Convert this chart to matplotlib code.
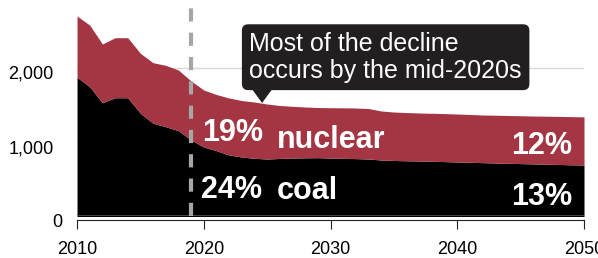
import matplotlib
matplotlib.use('Agg')
import matplotlib.pyplot as plt
from matplotlib.patches import Polygon
from matplotlib.transforms import ScaledTranslation

plt.rcParams['font.family'] = ['Liberation Sans', 'DejaVu Sans']
plt.rcParams['lines.scale_dashes'] = False

# Data, electricity generation by year
years = list(range(2010, 2051))
coal = [1879, 1752, 1536, 1603, 1603, 1393, 1258, 1212, 1158, 1032,
        938, 888, 830, 803, 785, 776, 783, 789, 792, 794,
        789, 785, 781, 776, 762, 756, 752, 749, 745, 741,
        736, 731, 727, 722, 718, 714, 710, 706, 702, 698, 695]
nuclear = [827, 832, 792, 810, 810, 809, 818, 828, 819, 797,
           769, 758, 769, 762, 760, 742, 715, 698, 686, 677,
           679, 682, 683, 681, 662, 654, 651, 648, 648, 648,
           647, 646, 643, 645, 645, 646, 646, 648, 649, 650, 650]
total = [c + n for c, n in zip(coal, nuclear)]

cutoff_year = 2019
xticks = [2010, 2020, 2030, 2040, 2050]
yticks = [0, 1000, 2000]
ytick_labels = ['0', '1,000', '2,000']
note = 'Most of the decline\noccurs by the mid-2020s'

RED = '#a43543'
BOX = '#231f20'

fig = plt.figure(figsize=(5.98, 2.58), dpi=100)
ax = fig.add_axes([0.1288, 0.1609, 0.8478, 0.8155])

ax.fill_between(years, 0, coal, color='black', lw=0, zorder=2)
ax.fill_between(years, coal, total, color=RED, lw=0, zorder=2)
ax.axhline(0, color='#555555', lw=1.2, zorder=3)

# gridline only visible above the areas
for y in yticks[1:]:
    ax.axhline(y, color='#d9d9d9', lw=1, zorder=1)

ax.axvline(cutoff_year, color='#a6a6a6', lw=3, dashes=(9.5, 8), zorder=4)

ax.set_xlim(2010, 2050)
ax.set_ylim(0, 2840)

ax.set_xticks(xticks)
ax.set_xticklabels([str(x) for x in xticks])
ax.set_yticks(yticks)
ax.set_yticklabels(ytick_labels)
ax.tick_params(axis='x', length=6.5, width=0.8, color='#222222', pad=9, labelsize=13)
ax.tick_params(axis='y', length=0, pad=17, labelsize=13)

for s in ['top', 'right', 'left']:
    ax.spines[s].set_visible(False)
ax.spines['bottom'].set_position(('outward', 2.2))
ax.spines['bottom'].set_color('#222222')
ax.spines['bottom'].set_linewidth(0.8)

# y labels sit a bit below their values; "0" sits further right
for lab in ax.get_yticklabels():
    dx = 6.5 / 72 if lab.get_text() == '0' else 0
    lab.set_transform(lab.get_transform() + ScaledTranslation(dx, -3 / 72, fig.dpi_scale_trans))

# in-chart labels
big = dict(color='white', fontsize=22, fontweight='bold', zorder=5)
ax.text(2019.9, 1019, '19%', ha='left', va='baseline', **big)
ax.text(2025.75, 924, 'nuclear', ha='left', va='baseline', **big)
ax.text(2049.1, 843, '12%', ha='right', va='baseline', **big)
ax.text(2019.8, 246, '24%', ha='left', va='baseline', **big)
ax.text(2025.75, 236, 'coal', ha='left', va='baseline', **big)
ax.text(2049.1, 155, '13%', ha='right', va='baseline', **big)

# callout
ax.text(2023.6, 2150, note, ha='left', va='center', color='white', fontsize=18,
        linespacing=1.15, zorder=6,
        bbox=dict(boxstyle='round,pad=0.3,rounding_size=0.25', fc=BOX, ec='none'))
ax.add_patch(Polygon([(2023.8, 1720), (2025.4, 1720), (2024.6, 1532)],
                     closed=True, fc=BOX, ec='none', zorder=6))

fig.savefig('out.png', dpi=100)
